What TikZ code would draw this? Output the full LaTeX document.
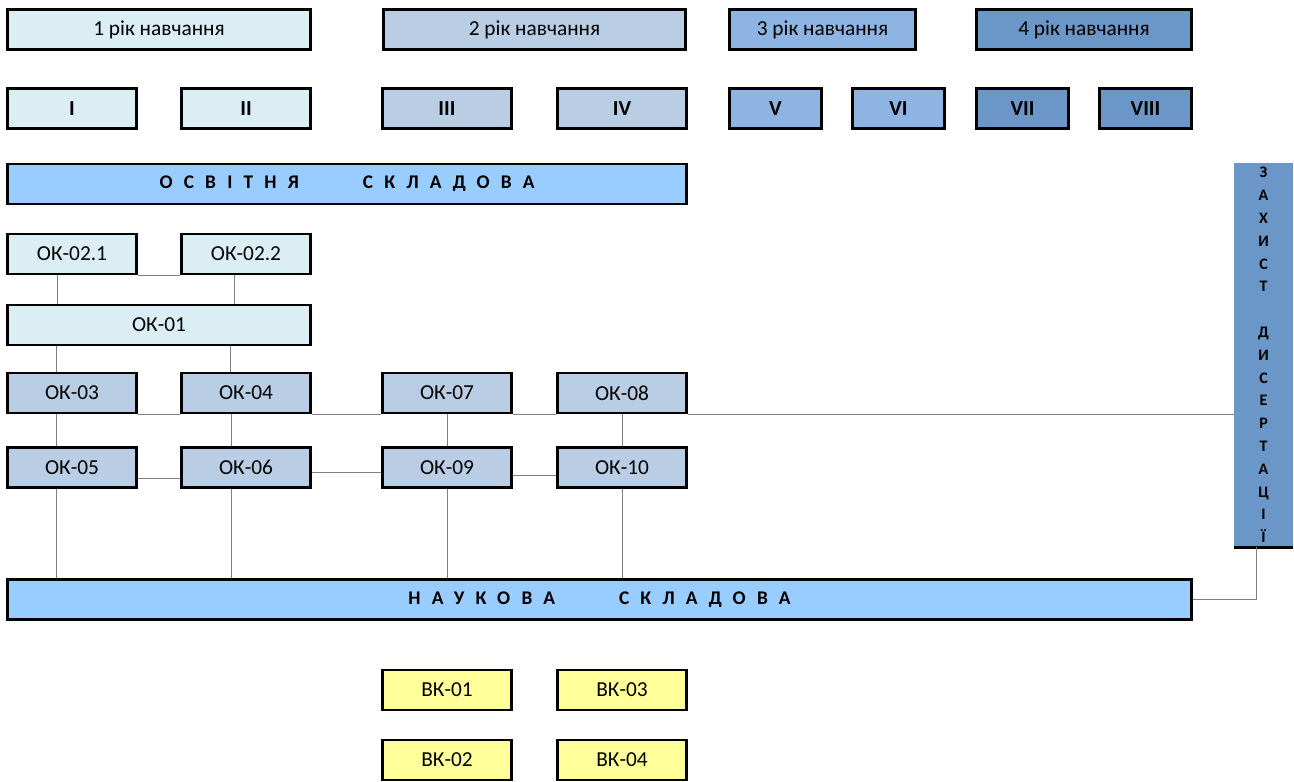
\documentclass[tikz,border=0pt]{standalone}
\usepackage{fontspec}
\setmainfont{Carlito}
\definecolor{yearone}{HTML}{DAEEF3}
\definecolor{yeartwo}{HTML}{B9CDE5}
\definecolor{yearthree}{HTML}{8EB4E3}
\definecolor{yearfour}{HTML}{6A96C8}
\definecolor{partfill}{HTML}{99CCFF}
\definecolor{electfill}{HTML}{FFFF99}
\definecolor{linkgray}{HTML}{808080}
\tikzset{cell/.style={draw=black, line width=2.2pt, inner sep=0pt, minimum height=30pt, font=\fontsize{16}{18}\selectfont},
  semcell/.style={cell, minimum width=97pt},
  widecell/.style={cell, minimum width=227pt},
  thincell/.style={cell, minimum width=69pt},
  roman/.style={font=\fontsize{16}{18}\selectfont\bfseries},
  partcell/.style={cell, fill=partfill, font=\fontsize{14.5}{18}\selectfont\bfseries\addfontfeature{LetterSpace=58}},
  link/.style={draw=linkgray, line width=0.7pt}}

\begin{document}
\begin{tikzpicture}[x=0.75pt, y=-0.75pt]
  \useasboundingbox (0,0) rectangle (1294,781);
  \node[widecell, fill=yearone] (y1) at (159,29.5) {1 рік навчання};
  \node[widecell, fill=yeartwo] (y2) at (534.5,29.5) {2 рік навчання};
  \node[cell, fill=yearthree, minimum width=139.5pt] (y3) at (822.5,29.5) {3 рік навчання};
  \node[cell, fill=yearfour, minimum width=161pt] (y4) at (1084,29.5) {4 рік навчання};

  \node[semcell, roman, fill=yearone] (s1) at (72,108.5) {I};
  \node[semcell, roman, fill=yearone] (s2) at (246,108.5) {II};
  \node[semcell, roman, fill=yeartwo] (s3) at (447,108.5) {III};
  \node[semcell, roman, fill=yeartwo] (s4) at (622,108.5) {IV};
  \node[thincell, roman, fill=yearthree] (s5) at (775.5,108.5) {V};
  \node[thincell, roman, fill=yearthree] (s6) at (898.5,108.5) {VI};
  \node[thincell, roman, fill=yearfour] (s7) at (1022.5,108.5) {VII};
  \node[thincell, roman, fill=yearfour] (s8) at (1145.5,108.5) {VIII};

  \node[partcell, minimum width=509pt] (osv) at (347,184) {ОСВІТНЯ\hspace{48pt}СКЛАДОВА};

  \node[semcell, fill=yearone] (ok021) at (72,254) {ОК-02.1};
  \node[semcell, fill=yearone] (ok022) at (246,254) {ОК-02.2};
  \node[widecell, fill=yearone] (ok01) at (159,325) {ОК-01};

  \node[semcell, fill=yeartwo] (ok03) at (72,393) {ОК-03};
  \node[semcell, fill=yeartwo] (ok04) at (246,393) {ОК-04};
  \node[semcell, fill=yeartwo] (ok07) at (447,393) {ОК-07};
  \node[semcell, fill=yeartwo] (ok08) at (622,393) {ОК-08};
  \node[semcell, fill=yeartwo] (ok05) at (72,467.5) {ОК-05};
  \node[semcell, fill=yeartwo] (ok06) at (246,467.5) {ОК-06};
  \node[semcell, fill=yeartwo] (ok09) at (447,467.5) {ОК-09};
  \node[semcell, fill=yeartwo] (ok10) at (622,467.5) {ОК-10};

  \node[partcell, minimum width=888pt] (nauk) at (599.5,599.5) {НАУКОВА\hspace{48pt}СКЛАДОВА};

  \node[semcell, fill=electfill] (vk01) at (447,690) {ВК-01};
  \node[semcell, fill=electfill] (vk03) at (622,690) {ВК-03};
  \node[semcell, fill=electfill] (vk02) at (447,760) {ВК-02};
  \node[semcell, fill=electfill] (vk04) at (622,760) {ВК-04};

  \node[fill=yearfour, minimum width=44pt, minimum height=288pt, inner sep=0pt, align=center,
        font=\fontsize{12}{17.1}\selectfont\bfseries] (zahyst) at (1263.5,355)
        {З\\А\\Х\\И\\С\\Т\\[17.1pt]Д\\И\\С\\Е\\Р\\Т\\А\\Ц\\І\\Ї};
  \draw[line width=2.2pt] (zahyst.south west) -- (zahyst.south east);

  \draw[link] (ok021.south east) -- (ok022.south west);
  \draw[link] ([xshift=-11pt]ok021.south) -- ([xshift=-11pt]ok021.south |- ok01.north);
  \draw[link] ([xshift=-9pt]ok022.south) -- ([xshift=-9pt]ok022.south |- ok01.north);
  \draw[link] ([xshift=-12pt]ok03.north) -- ([xshift=-12pt]ok03.north |- ok01.south);
  \draw[link] ([xshift=-12pt]ok04.north) -- ([xshift=-12pt]ok04.north |- ok01.south);

  \draw[link] (ok03.south east) -- (ok04.south west);
  \draw[link] (ok04.south east) -- (ok07.south west);
  \draw[link] (ok07.south east) -- (ok08.south west);
  \draw[link] (ok08.south east) -- (ok08.south east -| zahyst.west);

  \draw[link] ([xshift=-12pt]ok03.south) -- ([xshift=-12pt]ok05.north);
  \draw[link] ([xshift=-11pt]ok04.south) -- ([xshift=-11pt]ok06.north);
  \draw[link] (ok07) -- (ok09);
  \draw[link] (ok08) -- (ok10);

  \draw[link] ([yshift=-8pt]ok05.east) -- ([yshift=-8pt]ok06.west);
  \draw[link] ([yshift=-4pt]ok06.east) -- ([yshift=-4pt]ok09.west);
  \draw[link] ([yshift=-6pt]ok09.east) -- ([yshift=-6pt]ok10.west);

  \draw[link] ([xshift=-12pt]ok05.south) -- ([xshift=-12pt]ok05.south |- nauk.north);
  \draw[link] ([xshift=-11pt]ok06.south) -- ([xshift=-11pt]ok06.south |- nauk.north);
  \draw[link] (ok09.south) -- (ok09.south |- nauk.north);
  \draw[link] (ok10.south) -- (ok10.south |- nauk.north);

  \draw[link] (nauk.east) -| ([xshift=-5pt]zahyst.south);
\end{tikzpicture}
\end{document}
